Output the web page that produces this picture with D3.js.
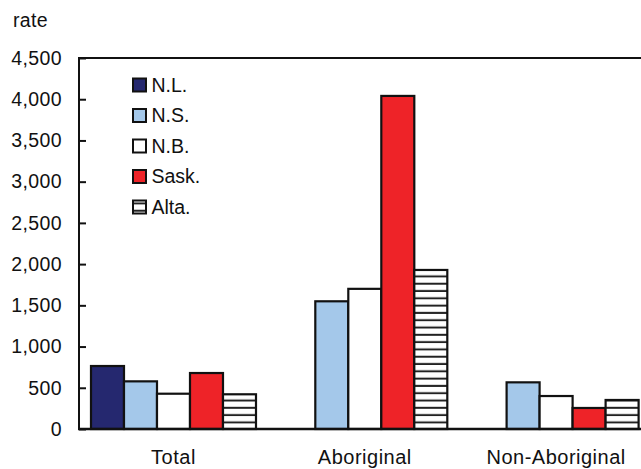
<!DOCTYPE html>
<html>
<head>
<meta charset="utf-8">
<script src="https://cdn.jsdelivr.net/npm/d3@7"></script>
<style>
  html, body { margin: 0; padding: 0; background: #fff; }
  svg { display: block; }
  text { font-family: "Liberation Sans", Arial, sans-serif; fill: #111; }
</style>
</head>
<body>
<div id="chart"></div>
<script>
const categories = ["Total", "Aboriginal", "Non-Aboriginal"];
const seriesNames = ["N.L.", "N.S.", "N.B.", "Sask.", "Alta."];
const valuesNL   = [764, null, null];
const valuesNS   = [578, 1549, 566];
const valuesNB   = [428, 1700, 400];
const valuesSask = [679, 4040, 255];
const valuesAlta = [421, 1929, 352];
const yTicks = [0, 500, 1000, 1500, 2000, 2500, 3000, 3500, 4000, 4500];
const yLabel = "rate";

const seriesValues = [valuesNL, valuesNS, valuesNB, valuesSask, valuesAlta];
const fills = ["#25286f", "#a4c8ea", "#ffffff", "#ee2328", "url(#stripes)"];

const W = 641, H = 469;
const FS = 19.5;
const svg = d3.select("#chart").append("svg").attr("width", W).attr("height", H);

const defs = svg.append("defs");
const pat = defs.append("pattern").attr("id", "stripes")
  .attr("patternUnits", "userSpaceOnUse").attr("width", 10).attr("height", 7.3);
pat.append("rect").attr("width", 10).attr("height", 7.3).attr("fill", "#fff");
pat.append("rect").attr("y", 5.3).attr("width", 10).attr("height", 2).attr("fill", "#222");

const x0 = d3.scaleBand().domain(categories).range([79, 650.6])
  .paddingInner(0.1375).paddingOuter(0.0627);
const x1 = d3.scaleBand().domain(seriesNames).range([0, x0.bandwidth()]).padding(0);
const y = d3.scaleLinear().domain([0, 4500]).range([429, 58]);

// bars
const groups = svg.selectAll("g.grp").data(categories).enter().append("g")
  .attr("class", "grp").attr("transform", d => `translate(${x0(d)},0)`);
groups.each(function(cat, ci) {
  const g = d3.select(this);
  seriesNames.forEach((s, si) => {
    const v = seriesValues[si][ci];
    if (v == null) return;
    g.append("rect")
      .attr("x", x1(s)).attr("width", x1.bandwidth())
      .attr("y", y(v)).attr("height", y(0) - y(v))
      .attr("fill", fills[si]).attr("stroke", "#111").attr("stroke-width", 2.2);
  });
});

// axes
const yAxis = d3.axisLeft(y).tickValues(yTicks).tickSize(-7).tickPadding(17)
  .tickFormat(d3.format(","));
const ga = svg.append("g").attr("transform", "translate(79,0)").call(yAxis);
ga.select(".domain").remove();
ga.selectAll(".tick line").attr("stroke", "#111").attr("stroke-width", 2);
ga.selectAll(".tick text").attr("font-size", FS).attr("letter-spacing", 0.4)
  .attr("font-family", "Liberation Sans, Arial, sans-serif").attr("fill", "#111");

svg.append("line").attr("x1", 79).attr("x2", 79).attr("y1", y(4500) - 1).attr("y2", y(0) + 1)
  .attr("stroke", "#111").attr("stroke-width", 2);
svg.append("line").attr("x1", 78).attr("x2", W).attr("y1", y(4500)).attr("y2", y(4500))
  .attr("stroke", "#111").attr("stroke-width", 2);
svg.append("line").attr("x1", 78).attr("x2", W).attr("y1", y(0)).attr("y2", y(0))
  .attr("stroke", "#111").attr("stroke-width", 2.5);

// category labels
svg.selectAll("text.cat").data(categories).enter().append("text")
  .attr("class", "cat")
  .attr("x", d => x0(d) + x0.bandwidth() / 2).attr("y", 464)
  .attr("text-anchor", "middle").attr("font-size", FS + 0.5).attr("letter-spacing", 0.5).text(d => d);

// y label
svg.append("text").attr("x", 13).attr("y", 27).attr("font-size", FS).attr("letter-spacing", 0.3).text(yLabel);

// legend
const lg = svg.append("g");
seriesNames.forEach((s, i) => {
  const cy = 85 + i * 30.5;
  lg.append("rect").attr("x", 133).attr("y", cy - 6.5).attr("width", 13).attr("height", 13)
    .attr("fill", fills[i]).attr("stroke", "#111").attr("stroke-width", 2);
  lg.append("text").attr("x", 151.5).attr("y", cy + 6.5).attr("font-size", FS).text(s);
});
</script>
</body>
</html>
